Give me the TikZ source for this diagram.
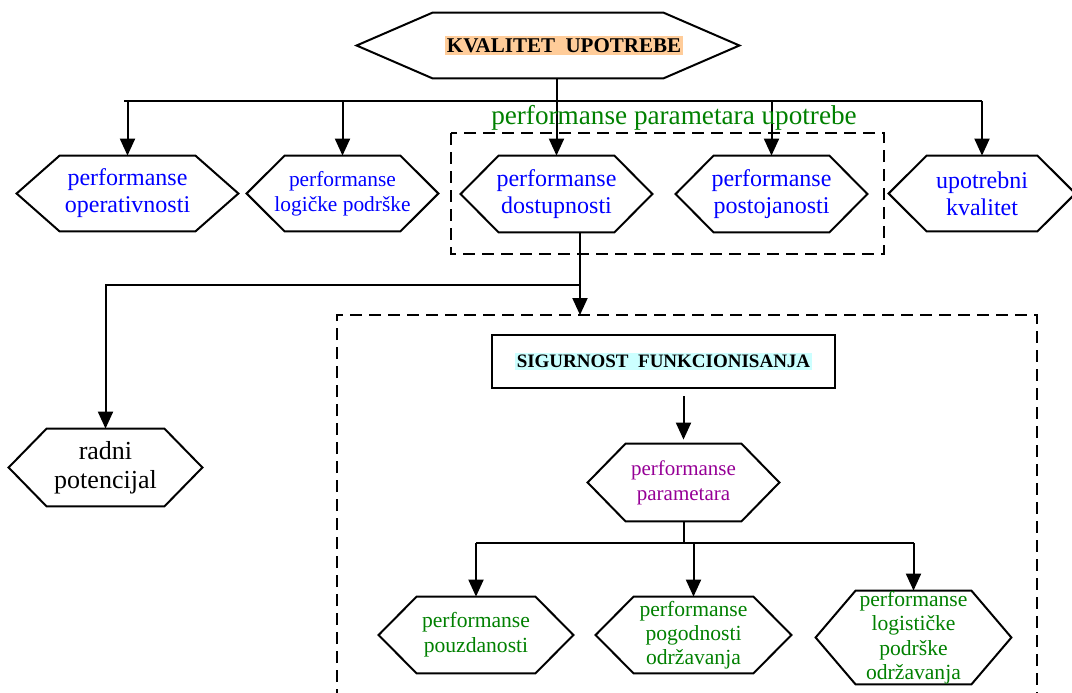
\documentclass[tikz,border=0pt]{standalone}
\usepackage{fontspec}
\setmainfont{Liberation Serif}
\usetikzlibrary{arrows.meta,shapes,positioning,calc}
\definecolor{peach}{RGB}{255,204,153}
\definecolor{lcyan}{RGB}{204,255,255}
\definecolor{dgreen}{RGB}{0,128,0}
\definecolor{purp}{RGB}{150,0,150}
\tikzset{
  hexa/.style={rectangle, inner sep=0pt, align=center, text=blue, font=\fontsize{12}{13.5}\selectfont,
    append after command={\pgfextra{\draw[line width=1pt, line join=miter]
      (\tikzlastnode.west) -- ([xshift=#1]\tikzlastnode.north west) -- ([xshift=-#1]\tikzlastnode.north east)
      -- (\tikzlastnode.east) -- ([xshift=-#1]\tikzlastnode.south east) -- ([xshift=#1]\tikzlastnode.south west) -- cycle;}}},
  hexa/.default=19pt
}
\tikzstyle{box}=[rectangle, draw=black, line width=1pt, inner sep=0pt]
\tikzstyle{arr}=[line width=1pt, -{Triangle[length=8.5pt,width=7.5pt]}]
\tikzstyle{ln}=[line width=1pt]
\tikzstyle{grp}=[line width=0.9pt, dash pattern=on 6pt off 3.5pt]
\tikzstyle{lab}=[inner sep=0pt, font=\fontsize{13.6}{15}\selectfont]
\setlength{\fboxsep}{1pt}

\begin{document}
\begin{tikzpicture}[x=0.5pt, y=-0.5pt]
      \useasboundingbox (0,0) rectangle (1072,692);
      \clip (0,0) rectangle (1072,692);
      % top
      \node[hexa=38pt, minimum width=191pt, minimum height=32.5pt, text=black, font=\fontsize{10.5}{12}\selectfont] (kval) at (548,45.5) {\hspace{16pt}\colorbox{peach}{\bfseries KVALITET\ \ UPOTREBE}};
      %
      \node[hexa=21.5pt, minimum width=110.5pt, minimum height=37.5pt] (op) at (127.5,193.5) {performanse\\operativnosti};
      \node[hexa, minimum width=95.5pt, minimum height=37.5pt, font=\fontsize{10.7}{12.5}\selectfont] (log) at (342.5,193.5) {performanse\\logičke podrške};
      \node[hexa, minimum width=95.5pt, minimum height=38pt] (dos) at (556.5,194) {performanse\\dostupnosti};
      \node[hexa, minimum width=95.5pt, minimum height=38pt] (pos) at (771.5,194) {performanse\\postojanosti};
      \node[hexa, minimum width=93pt, minimum height=37.5pt] (upo) at (982,193.5) {upotrebni\\kvalitet};
      %
      \coordinate (busL) at (124,101);
      \coordinate (busR) at (982,101);
      \draw[ln] (kval.south -| dos.north) -- (dos.north |- busL);
      \draw[ln] (busL) -- (busR);
      \foreach \n in {op,log,dos,pos,upo}
        \draw[arr] (\n.north |- busL) -- (\n.north);
      %
      \draw[grp] (451,133) rectangle (884,254);
      \node[lab, text=dgreen] (grpLab) at (674,118) {performanse parametara upotrebe};
      %
      \node[hexa, minimum width=96.5pt, minimum height=38.5pt, text=black, font=\fontsize{13}{14.5}\selectfont] (radni) at (105.5,467.5) {radni\\potencijal};
      \coordinate (j1) at (580,285);
      \coordinate (sfNW) at (337,315);
      \draw[ln] (dos.south -| j1) -- (j1);
      \draw[arr] (j1) -- (radni.north |- j1) -- (radni.north);
      \draw[arr] (j1) -- (j1 |- sfNW);
      %
      \draw[grp] (337,720) -- (sfNW) -- (1037,315) -- (1037,720);
      \node[box, minimum width=171.5pt, minimum height=26.5pt, font=\fontsize{9.5}{11}\selectfont] (sig) at (663.5,361.5) {\colorbox{lcyan}{\bfseries SIGURNOST\ \ FUNKCIONISANJA}};
      \node[hexa, minimum width=95.5pt, minimum height=38.5pt, text=purp, font=\fontsize{10.5}{12.5}\selectfont] (par) at (683.5,482.5) {performanse\\parametara};
      \draw[arr, shorten <=3.5pt, shorten >=2pt] (sig.south -| par.north) -- (par.north);
      %
      \node[hexa, minimum width=97pt, minimum height=38pt, text=dgreen, font=\fontsize{10.8}{12.5}\selectfont] (pouz) at (476,635) {performanse\\pouzdanosti};
      \node[hexa, minimum width=97.5pt, minimum height=38pt, text=dgreen, font=\fontsize{10.8}{12}\selectfont] (pogod) at (693.5,635) {performanse\\pogodnosti\\održavanja};
      \node[hexa=20pt, minimum width=97.5pt, minimum height=46.5pt, text=dgreen, font=\fontsize{10.8}{12.2}\selectfont] (logi) at (913.5,637.5) {performanse\\logističke\\podrške\\održavanja};
      \coordinate (j2) at (686,543);
      \draw[ln] (par.south) -- (par.south |- j2);
      \draw[ln] (pouz.north |- j2) -- (logi.north |- j2);
      \foreach \n in {pouz,pogod,logi}
        \draw[arr] (\n.north |- j2) -- (\n.north);
\end{tikzpicture}
\end{document}
